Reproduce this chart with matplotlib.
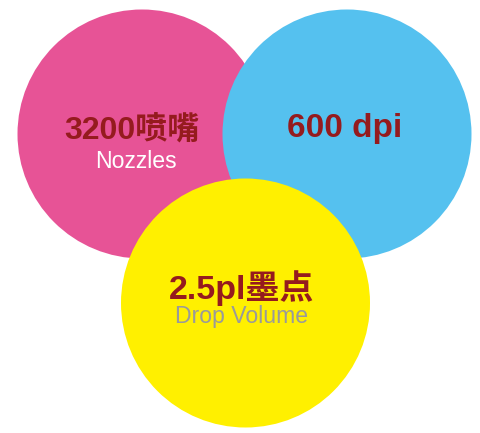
import matplotlib.pyplot as plt
from matplotlib.patches import Circle

plt.rcParams['font.family'] = ['Liberation Sans', 'Noto Sans CJK SC', 'DejaVu Sans']

# what each circle says
titles = ['3200喷嘴', '600 dpi', '2.5pl墨点']
subtitles = ['Nozzles', '', 'Drop Volume']

# layout in pixel coordinates of the 480x433 canvas
centers = [(142, 134), (347, 134), (245.5, 303)]
radius = 124.5
fill_colors = ['#E75396', '#55C1EF', '#FFF000']
title_pos = [(132, 131), (345, 128), (242, 288)]
title_sizes = [23, 24, 24.5]
sub_pos = [(136, 162), None, (242, 317)]
sub_colors = ['white', None, '#9A9A9A']
title_color = '#951B1E'

fig = plt.figure(figsize=(4.8, 4.33), dpi=100)
ax = fig.add_axes([0, 0, 1, 1])
ax.set_xlim(0, 480)
ax.set_ylim(433, 0)
ax.set_aspect('equal')
ax.axis('off')

for i, (c, col) in enumerate(zip(centers, fill_colors)):
    ax.add_patch(Circle(c, radius, facecolor=col, edgecolor='none', zorder=i + 1))

for i, t in enumerate(titles):
    x, y = title_pos[i]
    ax.text(x, y, t, ha='center', va='center', fontsize=title_sizes[i], fontweight='bold',
            color=title_color, zorder=10)
    if subtitles[i]:
        sx, sy = sub_pos[i]
        ax.text(sx, sy, subtitles[i], ha='center', va='center', fontsize=16.6,
                color=sub_colors[i], zorder=10)

fig.savefig('out.png', dpi=100)
